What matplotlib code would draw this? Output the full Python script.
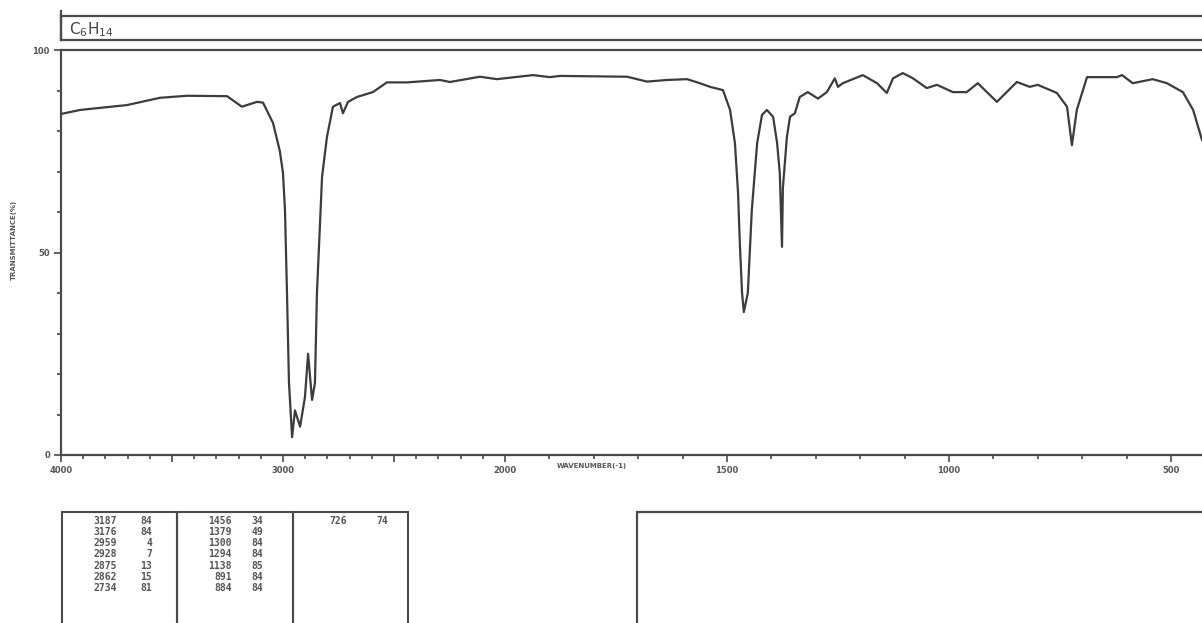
import numpy as np
import matplotlib
matplotlib.use("Agg")
import matplotlib.pyplot as plt
from matplotlib.ticker import FixedLocator
from matplotlib.patches import Rectangle
from matplotlib.lines import Line2D

# ---- spectrum (wavenumber, transmittance %) ----
wavenumber = [4000, 3914, 3703, 3554, 3432, 3252, 3185, 3117, 3090, 3045, 3014,
              3000, 2991, 2982, 2973, 2959, 2946, 2923, 2901, 2887, 2869, 2856,
              2847, 2824, 2802, 2775, 2743, 2730, 2707, 2667, 2595, 2532, 2441,
              2293, 2248, 2113, 2036, 1937, 1899, 1876, 1725, 1680, 1635, 1590,
              1561, 1538, 1509, 1493, 1482, 1475, 1471, 1466, 1462, 1453, 1444,
              1432, 1421, 1410, 1396, 1387, 1381, 1376, 1374, 1365, 1358, 1347,
              1336, 1318, 1295, 1275, 1257, 1250, 1239, 1194, 1162, 1140, 1126,
              1104, 1081, 1050, 1027, 991, 960, 935, 892, 847, 818, 800, 757,
              734, 723, 712, 689, 622, 610, 586, 541, 509, 473, 450, 430]
transmittance = [84.2, 85.2, 86.4, 88.2, 88.7, 88.6, 86.0, 87.2, 87.0, 82.0, 75.0,
                 69.6, 60.5, 40.0, 17.8, 4.4, 11.0, 7.0, 14.3, 25.0, 13.6, 17.8,
                 40.0, 68.7, 78.5, 86.0, 86.9, 84.4, 87.2, 88.4, 89.6, 92.0, 92.0,
                 92.6, 92.1, 93.4, 92.8, 93.8, 93.3, 93.6, 93.4, 92.2, 92.6, 92.8,
                 91.8, 90.9, 90.1, 85.2, 77.0, 64.7, 52.3, 40.0, 35.3, 40.0, 60.5,
                 77.0, 84.0, 85.2, 83.5, 77.0, 69.6, 51.4, 66.0, 78.5, 83.5, 84.4,
                 88.4, 89.6, 88.0, 89.6, 93.0, 90.9, 91.8, 93.8, 91.8, 89.4, 93.0,
                 94.3, 93.0, 90.6, 91.4, 89.6, 89.6, 91.8, 87.2, 92.1, 90.9, 91.4, 89.4,
                 86.0, 76.5, 85.2, 93.3, 93.3, 93.8, 91.8, 92.8, 91.8, 89.6, 85.2, 77.8]

# ---- peak table ----
peak_wn = [3187, 3176, 2959, 2928, 2875, 2862, 2734,
           1456, 1379, 1300, 1294, 1138, 891, 884,
           726]
peak_T = [84, 84, 4, 7, 13, 15, 81,
          34, 49, 84, 84, 85, 84, 84,
          74]

x_major = [4000, 3500, 3000, 2500, 2000, 1500, 1000, 500]
x_labels = ["4000", "", "3000", "", "2000", "1500", "1000", "500"]
y_major = [0, 50, 100]
y_labels = ["0", "50", "100"]

INK = "#4a4a4a"
W, H = 1202, 623


def fwd(x):
    x = np.asarray(x, dtype=float)
    return np.where(x >= 2000, x - 4000, 2 * (x - 2000) - 2000)


def inv(u):
    u = np.asarray(u, dtype=float)
    return np.where(u >= -2000, u + 4000, (u + 2000) / 2 + 2000)


fig = plt.figure(figsize=(W / 100, H / 100), dpi=100)
fig.patch.set_facecolor("white")

# main spectrum axes
ax = fig.add_axes([61 / W, (H - 455) / H, 1 - 61 / W, 405 / H])
ax.set_xscale("function", functions=(fwd, inv))
ax.plot(wavenumber, transmittance, color="#3c3c3c", lw=1.6)
ax.set_xlim(4000, 430)
ax.set_ylim(0, 100)
for s in ("left", "bottom", "top"):
    ax.spines[s].set_color(INK)
    ax.spines[s].set_linewidth(1.6)
ax.spines["right"].set_visible(False)

ax.xaxis.set_major_locator(FixedLocator(x_major))
ax.set_xticklabels(x_labels)
minor_x = [v for v in range(4000, 400, -100) if v not in x_major]
ax.xaxis.set_minor_locator(FixedLocator(minor_x))
ax.yaxis.set_major_locator(FixedLocator(y_major))
ax.set_yticklabels(y_labels)
ax.yaxis.set_minor_locator(FixedLocator([10, 20, 30, 40, 60, 70, 80, 90]))
ax.tick_params(axis="both", which="major", direction="out", length=5, width=1.2,
               color=INK, labelsize=6, labelcolor="#555555", pad=3)
ax.tick_params(axis="both", which="minor", direction="out", length=3, width=1.2,
               color=INK)
for lab in ax.get_xticklabels() + ax.get_yticklabels():
    lab.set_fontweight("bold")

ax.set_xlabel("WAVENUMBER(-1)", fontsize=5, fontweight="bold", color="#555555")
ax.xaxis.set_label_coords((592 - 61) / (W - 61), -0.02)
ax.set_ylabel("TRANSMITTANCE(%)", fontsize=5, fontweight="bold", color="#555555")
ax.yaxis.set_label_coords((17 - 61) / (W - 61), 0.53)

# title box
tax = fig.add_axes([61 / W, (H - 40) / H, 1 - 61 / W, 24 / H])
tax.set_xticks([])
tax.set_yticks([])
for s in ("left", "bottom", "top"):
    tax.spines[s].set_color(INK)
    tax.spines[s].set_linewidth(1.6)
tax.spines["right"].set_visible(False)
tax.text(8 / (W - 61), 0.45, r"C$_6$H$_{14}$", fontsize=11, color="#444444",
         va="center", ha="left", transform=tax.transAxes)
fig.add_artist(Line2D([61 / W, 61 / W], [(H - 40) / H, (H - 11) / H],
                      color=INK, lw=1.6, transform=fig.transFigure))


def fx(px):
    return px / W


def fy(py):
    return (H - py) / H


# peak table box
box_top = 512
for x0, x1 in [(62, 177), (177, 293), (293, 408)]:
    fig.add_artist(Rectangle((fx(x0), fy(H + 5)), fx(x1) - fx(x0), fy(box_top) - fy(H + 5),
                             transform=fig.transFigure, fill=False,
                             edgecolor=INK, lw=1.5))
col_wn_x = [117, 232, 347]
col_T_x = [152, 263, 388]
row_y = [521, 532, 543, 554, 566, 577, 588]
for i, (wn, t) in enumerate(zip(peak_wn, peak_T)):
    col, row = divmod(i, 7)
    fig.text(fx(col_wn_x[col]), fy(row_y[row]), str(wn), ha="right", va="center",
             fontsize=7, family="DejaVu Sans Mono", color="#555555", fontweight="bold")
    fig.text(fx(col_T_x[col]), fy(row_y[row]), str(t), ha="right", va="center",
             fontsize=7, family="DejaVu Sans Mono", color="#555555", fontweight="bold")

# empty right box
fig.add_artist(Rectangle((fx(637), fy(H + 5)), fx(W + 5) - fx(637), fy(512) - fy(H + 5),
                         transform=fig.transFigure, fill=False, edgecolor=INK, lw=1.6))

fig.savefig("out.png", dpi=100, facecolor="white")
